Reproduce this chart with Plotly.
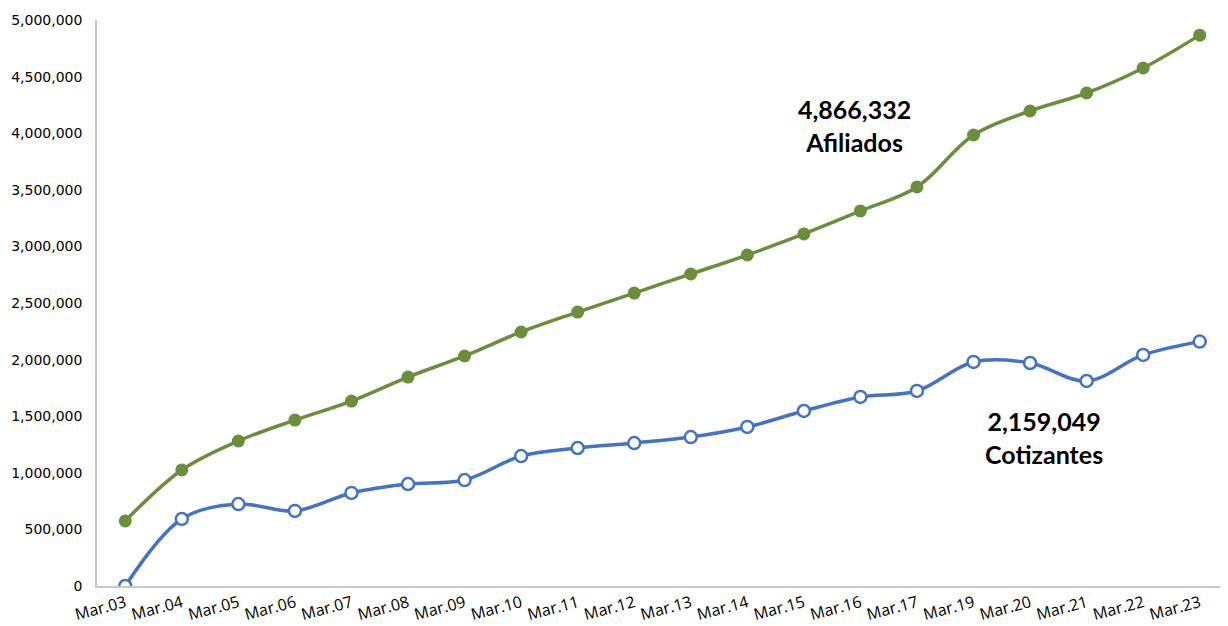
import plotly.graph_objects as go

# categories (Mar.18 not reported)
periodos = ['Mar.03', 'Mar.04', 'Mar.05', 'Mar.06', 'Mar.07', 'Mar.08', 'Mar.09',
            'Mar.10', 'Mar.11', 'Mar.12', 'Mar.13', 'Mar.14', 'Mar.15', 'Mar.16',
            'Mar.17', 'Mar.19', 'Mar.20', 'Mar.21', 'Mar.22', 'Mar.23']

afiliados = [575000, 1025000, 1281000, 1466000, 1634000, 1846000, 2032000,
             2244000, 2420000, 2588000, 2756000, 2924000, 3110000, 3313000,
             3525000, 3984000, 4196000, 4355000, 4576000, 4866332]

cotizantes = [0, 592000, 724000, 663000, 822000, 901000, 936000,
              1148000, 1219000, 1263000, 1316000, 1405000, 1546000, 1670000,
              1723000, 1979000, 1970000, 1811000, 2041000, 2159049]

y_ticks = list(range(0, 5000001, 500000))

GREEN = '#6b8e3a'
BLUE = '#4472c4'

fig = go.Figure()

fig.add_trace(go.Scatter(
    x=periodos, y=afiliados, mode='lines+markers', name='Afiliados',
    line=dict(color=GREEN, width=3.5, shape='spline'),
    marker=dict(color=GREEN, size=13, line=dict(width=0)),
))

fig.add_trace(go.Scatter(
    x=periodos, y=cotizantes, mode='lines+markers', name='Cotizantes',
    line=dict(color=BLUE, width=3.5, shape='spline'),
    marker=dict(color='white', size=12, line=dict(color=BLUE, width=2.5)),
))

fig.add_annotation(x=12.9, y=4070000, text='<b>4,866,332<br>Afiliados</b>',
                   showarrow=False, font=dict(family='Lato', size=25, color='black'))
fig.add_annotation(x=16.25, y=1316000, text='<b>2,159,049<br>Cotizantes</b>',
                   showarrow=False, font=dict(family='Lato', size=25, color='black'))

# page body adds an 8px offset, margins compensate for it
fig.update_layout(
    width=1228, height=626,
    margin=dict(l=89, r=8, t=12, b=48),
    plot_bgcolor='white', paper_bgcolor='white',
    showlegend=False,
)

fig.update_xaxes(
    type='category', range=[-0.5, 19.5], automargin=False,
    showgrid=False, showline=True, linecolor='#c8c8c8', linewidth=1.5,
    tickangle=-15, ticks='', tickfont=dict(family='Open Sans', size=16, color='black'),
)

fig.update_yaxes(
    range=[0, 5000000], tickvals=y_ticks, tickformat=',d', automargin=False,
    showgrid=False, showline=True, linecolor='#c8c8c8', linewidth=1.5,
    zeroline=False, ticks='', ticklabelstandoff=10,
    tickfont=dict(family='DejaVu Sans', size=14, color='black'),
)

fig.write_html('out.html')
